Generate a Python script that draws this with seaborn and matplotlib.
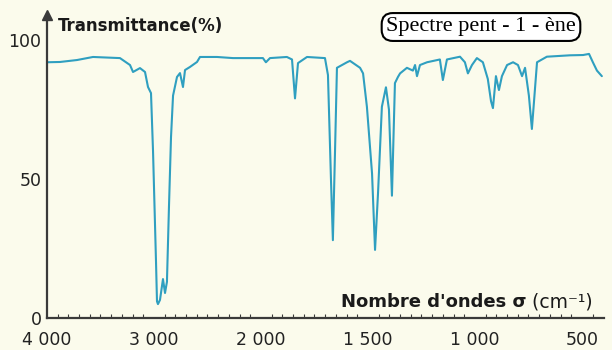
import numpy as np
import pandas as pd
import matplotlib
matplotlib.use("Agg")
import matplotlib.pyplot as plt
import seaborn as sns

# ---- data ----
wavenumber = [4000, 3879, 3720, 3570, 3318, 3224, 3196, 3131, 3084, 3056, 3028,
              3009, 2981, 2972, 2963, 2944, 2916, 2897, 2879, 2860, 2841, 2822,
              2785, 2757, 2729, 2710, 2664, 2598, 2570, 2411, 2262, 1991, 1977,
              1958, 1879, 1855, 1841, 1827, 1785, 1701, 1687, 1673, 1664, 1654,
              1645, 1598, 1584, 1537, 1523, 1505, 1481, 1467, 1453, 1435, 1416,
              1402, 1388, 1374, 1360, 1350, 1318, 1290, 1280, 1271, 1257, 1224,
              1164, 1150, 1131, 1070, 1047, 1033, 1014, 991, 963, 940, 925, 916,
              902, 888, 874, 850, 822, 799, 780, 766, 748, 734, 720, 710, 664,
              556, 495, 467, 449, 430, 407]
transmittance = [92, 92.1, 92.8, 93.9, 93.5, 91.0, 88.5, 89.9, 88.5, 83.1, 80.9,
                 60, 20, 6, 5, 6.5, 14, 9, 13, 40, 65, 80,
                 86.7, 88.1, 83.1, 89.2, 90.3, 92.1, 93.9, 93.9, 93.5, 93.5, 92,
                 93.5, 93.9, 93, 79, 91.7, 93.9, 93.5, 87.4, 50, 28, 60,
                 90, 92, 92.5, 90, 88, 76, 52, 24.5, 45, 76, 83,
                 75, 44, 84.5, 86.7, 88, 90, 89, 91, 87, 91, 92,
                 93, 85.6, 93, 94, 92, 88, 91, 93.5, 92, 86, 78, 75.5,
                 87, 82, 87, 91, 92, 91, 87, 90, 80, 68, 82, 92, 94,
                 94.5, 94.6, 95, 92, 89, 87]

xtick_values = [4000, 3000, 2000, 1500, 1000, 500]
xtick_labels = ["4 000", "3 000", "2 000", "1 500", "1 000", "500"]
ytick_values = [0, 50, 100]
ytick_labels = ["0", "50", "100"]

ylabel_text = "Transmittance(%)"
xlabel_bold = "Nombre d'ondes σ"
xlabel_unit = "(cm⁻¹)"
box_text = "Spectre pent - 1 - ène"

df = pd.DataFrame({"sigma": wavenumber, "T": transmittance})

# ---- style ----
sns.set_theme(style="white")
plt.rcParams["font.family"] = ["DejaVu Sans"]
bg = "#fbfbec"
line_color = "#2f9fc0"
axis_color = "#3a3a3a"

W, H = 612, 350
fig = plt.figure(figsize=(W / 100, H / 100), dpi=100, facecolor=bg)
ax = fig.add_axes([47 / W, 32 / H, (604 - 47) / W, (318 - 15) / H])
ax.set_facecolor(bg)


# IR-style axis: scale doubles below 2000 cm-1
def fwd(s):
    s = np.asarray(s, dtype=float)
    return np.where(s >= 2000, s, 2 * s - 2000)


def inv(v):
    v = np.asarray(v, dtype=float)
    return np.where(v >= 2000, v, (v + 2000) / 2)


ax.set_xscale("function", functions=(fwd, inv))

sns.lineplot(data=df, x="sigma", y="T", sort=False, color=line_color,
             linewidth=1.5, ax=ax, legend=False)

ax.set_xlim(4000, 397)
ax.set_ylim(0, 109)

ax.set_xticks(xtick_values)
ax.set_xticklabels(xtick_labels)
minor = np.concatenate([np.arange(3900, 2000, -100), np.arange(1950, 400, -50)])
ax.set_xticks(minor, minor=True)
ax.set_yticks(ytick_values)
ax.set_yticklabels(ytick_labels)

for side in ["top", "right"]:
    ax.spines[side].set_visible(False)
for side in ["left", "bottom"]:
    ax.spines[side].set_color(axis_color)
    ax.spines[side].set_linewidth(1.6)

ax.tick_params(axis="x", which="major", direction="inout", length=5, width=1,
               color=axis_color, labelsize=12.5, pad=7, labelcolor="#222222")
ax.tick_params(axis="x", which="minor", direction="in", length=3, width=0.8,
               color=axis_color, bottom=True)
ax.tick_params(axis="y", which="major", direction="inout", length=6, width=1,
               color=axis_color, labelsize=12.5, pad=1, labelcolor="#222222")
ax.set_xlabel("")
ax.set_ylabel("")

# arrow head at the top of the y axis
ax.plot([0], [1], marker="^", markersize=7, color=axis_color,
        transform=ax.transAxes, clip_on=False)

# texts
fig.text(58 / W, 1 - 26 / H, ylabel_text, fontsize=12, fontweight="bold",
         ha="left", va="center", color="#1a1a1a")
t_bold = fig.text(341 / W, 1 - 302 / H, xlabel_bold, fontsize=13,
                  fontweight="bold", ha="left", va="center", color="#1a1a1a")
ax.annotate(" " + xlabel_unit, xy=(1, 0.5), xycoords=t_bold, fontsize=13.5,
            ha="left", va="center", color="#1a1a1a", annotation_clip=False)
fig.text(481 / W, 1 - 27 / H, box_text, fontsize=16,
         family=["Liberation Serif", "DejaVu Serif"], ha="center", va="center",
         color="black",
         bbox=dict(boxstyle="round,pad=0.2,rounding_size=0.5", fc="white",
                   ec="black", lw=1.5))

fig.savefig("out.png", dpi=100, facecolor=bg)
